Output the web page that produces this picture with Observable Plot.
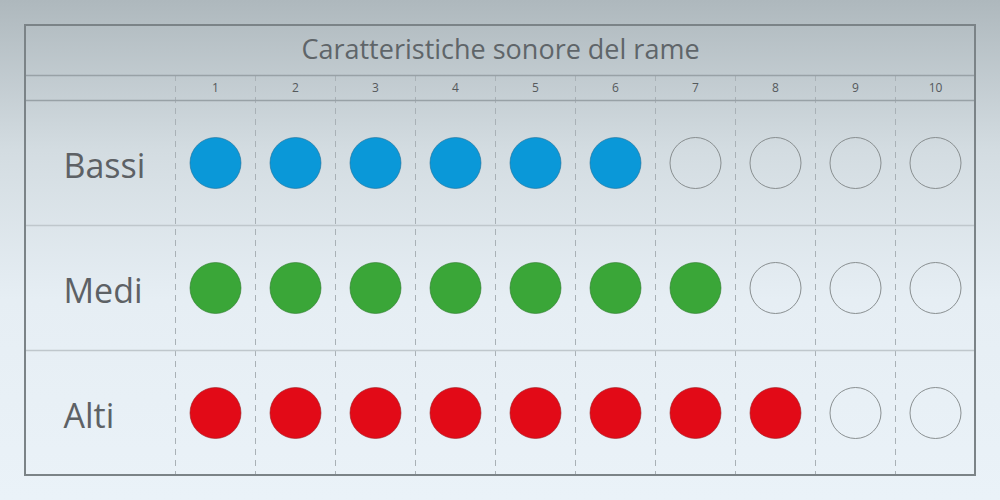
<!DOCTYPE html>
<html><head><meta charset="utf-8">
<script src="https://cdn.jsdelivr.net/npm/d3@7"></script>
<script src="https://cdn.jsdelivr.net/npm/@observablehq/plot@0.6"></script>
<style>
html,body{margin:0;padding:0;}
body{width:1000px;height:500px;overflow:hidden;}
</style>
</head><body>
<div id="chart"></div>
<script>
const title = "Caratteristiche sonore del rame";
const rows = ["Bassi", "Medi", "Alti"];
const scores = [6, 7, 8];
const colors = ["#0a98d8", "#3aa638", "#e20a17"];
const strokeColors = ["#1d6f99", "#2d7a2c", "#9c1a1f"];
const columns = ["1","2","3","4","5","6","7","8","9","10"];

const dots = [];
rows.forEach((r, i) => {
  columns.forEach((c, j) => {
    const k = j + 1;
    dots.push({row: i, col: k, filled: k <= scores[i], fill: colors[i], stroke: strokeColors[i]});
  });
});
const colIdx = columns.map((c, j) => j + 1);
const bounds = d3.range(0.5, columns.length, 1); // 0.5 .. 9.5
const rowBounds = [0.5, 1.5];

const plot = Plot.plot({
  width: 1000, height: 500,
  margin: 0,
  x: {domain: [-1.6875, 10.8125], range: [0, 1000], axis: null},
  y: {domain: [-1.3, 2.7], range: [0, 500], axis: null},
  style: {background: "linear-gradient(to bottom, #aeb8bd 0%, #d3dce1 30%, #e6eef4 60%, #eaf2f8 100%)", fontFamily: "'Open Sans', sans-serif"},
  marks: [
    Plot.ruleX(bounds, {x: d => d, y1: -0.7, y2: 2.5, stroke: "#a9b1b6", strokeWidth: 1, strokeDasharray: "6,5"}),
    Plot.ruleY([-0.7, -0.5], {y: d => d, x1: -1.375, x2: 10.5, stroke: "#98a1a6", strokeWidth: 1.5}),
    Plot.ruleY(rowBounds, {y: d => d, x1: -1.375, x2: 10.5, stroke: "#bfc7cc", strokeWidth: 1.5}),
    Plot.rect([{}], {x1: -1.375, x2: 10.5, y1: -1.1, y2: 2.5, fill: "none", stroke: "#7b8387", strokeWidth: 2}),
    Plot.text([title], {x: 4.5625, y: -0.905, text: d => d, fontSize: 27, fill: "#5f6569"}),
    Plot.text(columns, {x: (d, j) => colIdx[j], y: -0.6, text: d => d, fontSize: 12, fill: "#55595c"}),
    Plot.text(rows, {x: -0.9, y: (d, i) => i + 0.03, text: d => d, fontSize: 34, fill: "#5d6165", textAnchor: "start"}),
    Plot.dot(dots, {x: "col", y: "row", r: 25.5,
      fill: d => d.filled ? d.fill : "none",
      stroke: d => d.filled ? d.stroke : "#7f8486",
      strokeWidth: d => d.filled ? 0.6 : 0.9}),
  ]
});
document.getElementById("chart").appendChild(plot);
</script>
</body></html>
